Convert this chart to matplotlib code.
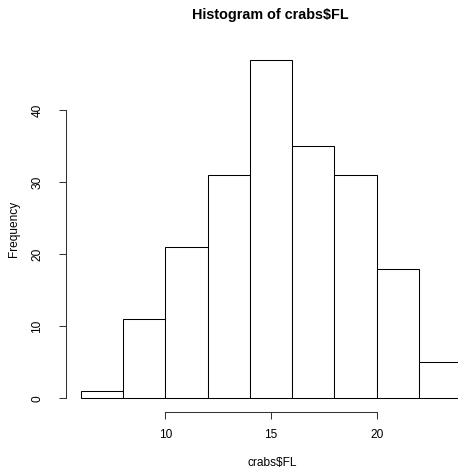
import matplotlib
matplotlib.use('Agg')
import matplotlib.pyplot as plt

# Histogram of crabs$FL (R base graphics style)
breaks = [6, 8, 10, 12, 14, 16, 18, 20, 22, 24]
counts = [1, 11, 21, 31, 47, 35, 31, 18, 5]
x_ticks = [10, 15, 20]
y_ticks = [0, 10, 20, 30, 40]

plt.rcParams['font.family'] = ['Liberation Sans', 'DejaVu Sans']

W, H = 458, 471
fig = plt.figure(figsize=(W / 100, H / 100), dpi=100)

# plot region in pixels (left, top, right, bottom)
left_px, top_px, right_px, bottom_px = 66, 46.4, 458, 411.8
ax = fig.add_axes([left_px / W, 1 - bottom_px / H,
                   (right_px - left_px) / W, (bottom_px - top_px) / H])

lefts = breaks[:-1]
widths = [b - a for a, b in zip(breaks[:-1], breaks[1:])]
ax.bar(lefts, counts, width=widths, align='edge', facecolor='white',
       edgecolor='black', linewidth=0.75, clip_on=False)

ax.set_xlim(5.305, 23.848)
ax.set_ylim(-1.88, 48.88)

for s in ['top', 'right']:
    ax.spines[s].set_visible(False)
ax.spines['left'].set_bounds(0, 40)
ax.spines['bottom'].set_bounds(10, 20)
for s in ['left', 'bottom']:
    ax.spines[s].set_linewidth(0.75)
    ax.spines[s].set_color('#333333')

ax.set_xticks(x_ticks)
ax.set_yticks(y_ticks)
ax.set_xticklabels([str(t) for t in x_ticks])
ax.set_yticklabels([str(t) for t in y_ticks], rotation=90, va='center')
ax.tick_params(axis='both', length=5.2, width=0.75, color='#333333',
               labelsize=8.6)
ax.tick_params(axis='x', pad=7)
ax.tick_params(axis='y', pad=11)

fig.text(270 / W, 1 - 15 / H, 'Histogram of crabs\\$FL', ha='center',
         va='center', fontsize=10.4, fontweight='bold')
fig.text(272 / W, 1 - 463 / H, 'crabs\\$FL', ha='center', va='center',
         fontsize=8.6)
fig.text(14 / W, 1 - 229 / H, 'Frequency', ha='center', va='center',
         rotation=90, fontsize=8.6)

fig.savefig('out.png', dpi=100)
